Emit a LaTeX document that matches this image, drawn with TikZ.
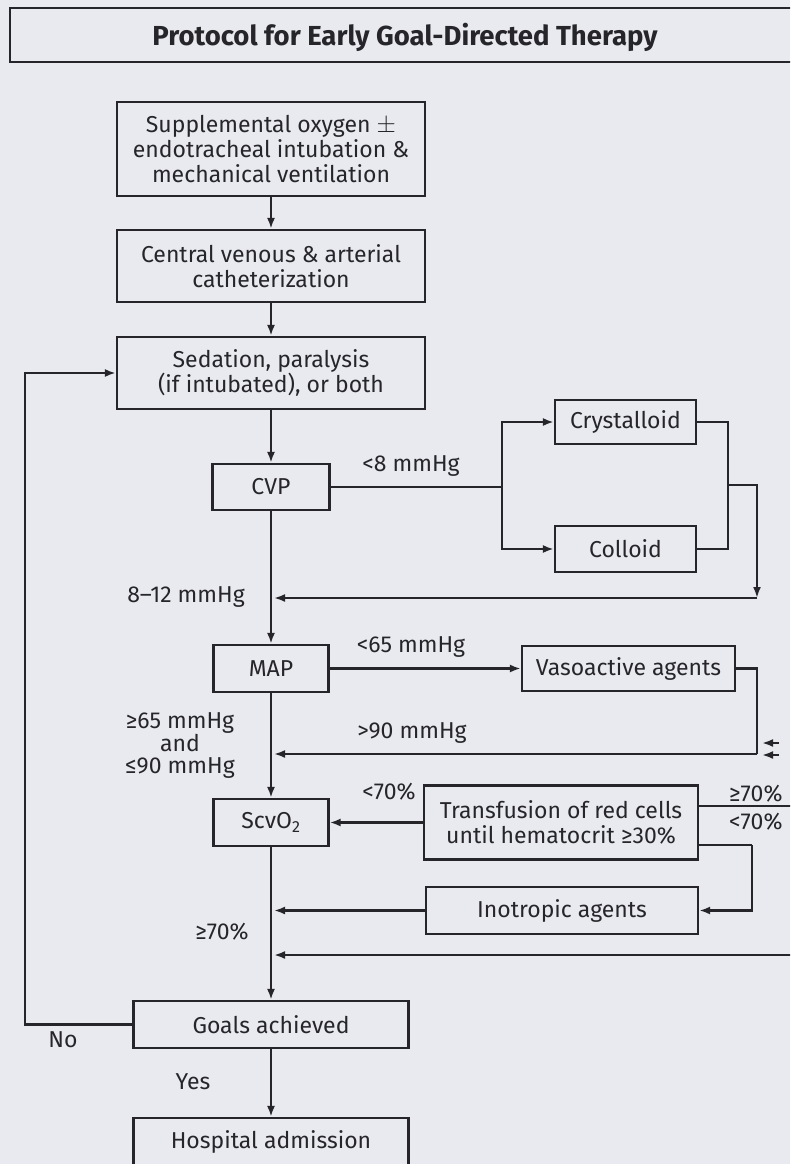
\documentclass[tikz,border=0pt]{standalone}
\usepackage{fontspec}
\setmainfont{Fira Sans}
\usetikzlibrary{arrows.meta}
\definecolor{bg}{RGB}{233,234,239}
\definecolor{ink}{RGB}{38,38,42}
\begin{document}
\begin{tikzpicture}[x=1pt,y=-1pt,
  box/.style={draw=ink, line width=2.2pt, fill=bg, text=ink, inner sep=0pt, align=center, font=\fontsize{23}{25}\selectfont},
  conn/.style={draw=ink, line width=2.2pt},
  arr/.style={conn, -{Latex[length=11pt,width=8pt]}},
  lbl/.style={text=ink, font=\fontsize{23}{25}\selectfont, inner sep=0pt, align=center}]
\useasboundingbox (0,0) rectangle (790,1164);
\clip (0,0) rectangle (790,1164);
\fill[bg] (0,0) rectangle (790,1164);
% title
\draw[ink, line width=2.6pt] (10,8) rectangle (805,62);
\node[lbl, font=\fontsize{27.5}{30}\selectfont\bfseries] (title) at (405,37) {Protocol for Early Goal-Directed Therapy};
% main column
\node[box, minimum width=308pt, minimum height=94pt] (b1) at (271,149) {Supplemental oxygen \(\pm\)\\endotracheal intubation \&\\mechanical ventilation};
\node[box, minimum width=308pt, minimum height=72pt] (b2) at (271,266) {Central venous \& arterial\\catheterization};
\node[box, minimum width=308pt, minimum height=72pt] (b3) at (271,373) {Sedation, paralysis\\(if intubated), or both};
\node[box, minimum width=117pt, minimum height=46pt] (cvp) at (271,487) {CVP};
\node[box, minimum width=141pt, minimum height=44pt] (cry) at (625.5,422) {Crystalloid};
\node[box, minimum width=141pt, minimum height=46pt] (col) at (625.5,549) {Colloid};
\node[box, minimum width=115pt, minimum height=47pt] (map) at (271,668.5) {MAP};
\node[box, minimum width=213pt, minimum height=45pt] (vaso) at (628.5,668.5) {Vasoactive agents};
\node[box, minimum width=115pt, minimum height=47pt] (scv) at (271,822.5) {ScvO\textsubscript{2}};
\node[box, minimum width=274pt, minimum height=74pt] (trans) at (561,822.5) {Transfusion of red cells\\until hematocrit ≥30\%};
\node[box, minimum width=272pt, minimum height=47pt] (ino) at (562,910.5) {Inotropic agents};
\node[box, minimum width=275pt, minimum height=47pt] (goals) at (271,1024.5) {Goals achieved};
\node[box, minimum width=275pt, minimum height=48pt] (hosp) at (271,1142) {Hospital admission};
% main arrows
\draw[arr] (b1) -- (b2);
\draw[arr] (b2) -- (b3);
\draw[arr] (b3) -- (cvp);
\draw[arr] (cvp) -- (map);
\draw[arr] (map) -- (scv);
\draw[arr] (scv) -- (goals);
\draw[arr] (goals) -- (hosp);
% CVP branch
\coordinate (br) at (502,487);
\coordinate (mr) at (728,485);
\coordinate (dr) at (757,598);
\coordinate (j1) at (274,598);
\draw[conn] (cvp) -- (br);
\draw[arr] (br) |- (cry);
\draw[arr] (br) |- (col);
\draw[conn] (cry) -| (mr);
\draw[conn] (col) -| (mr);
\draw[arr] (mr) -| (dr);
\draw[arr] (dr) -- (j1);
\node[lbl] (l8) at (411,466) {<8 mmHg};
\node[lbl] (l812) at (186,597) {8–12 mmHg};
% MAP branch
\coordinate (vr) at (757,754);
\coordinate (j2) at (274,754);
\draw[arr] (map) -- (vaso);
\draw[conn] (vaso) -| (vr);
\draw[arr] (vr) -- (j2);
\coordinate (e1a) at (779,743);
\coordinate (e1b) at (762,743);
\coordinate (e2a) at (779,755);
\coordinate (e2b) at (762,755);
\draw[arr] (e1a) -- (e1b);
\draw[arr] (e2a) -- (e2b);
\node[lbl] (l65) at (411,647) {<65 mmHg};
\node[lbl] (l90) at (412,733) {>90 mmHg};
\node[lbl, font=\fontsize{23}{22.5}\selectfont] (lmid) at (180,746) {≥65 mmHg\\and\\≤90 mmHg};
% ScvO2 branch
\coordinate (tr1) at (795,806);
\coordinate (tr2) at (752,845);
\coordinate (j3) at (274,910.5);
\coordinate (eb) at (795,955);
\coordinate (j4) at (274,955);
\draw[arr] (trans) -- (scv);
\draw[conn] (trans.east |- tr1) -- (tr1);
\draw[conn] (trans.east |- tr2) -- (tr2);
\draw[arr] (tr2) |- (ino);
\draw[arr] (ino) -- (j3);
\draw[arr] (eb) -- (j4);
\node[lbl] (l70a) at (389,792) {<70\%};
\node[lbl, anchor=west] (l70b) at (729,794) {≥70\%};
\node[lbl, anchor=west] (l70c) at (729,822) {<70\%};
\node[lbl] (l70d) at (222,932) {≥70\%};
% loop
\coordinate (lpc) at (25,373);
\draw[arr] (goals) -| (lpc) -- (b3);
\node[lbl] (lno) at (63,1040) {No};
\node[lbl] (lyes) at (193,1082) {Yes};
\end{tikzpicture}
\end{document}
